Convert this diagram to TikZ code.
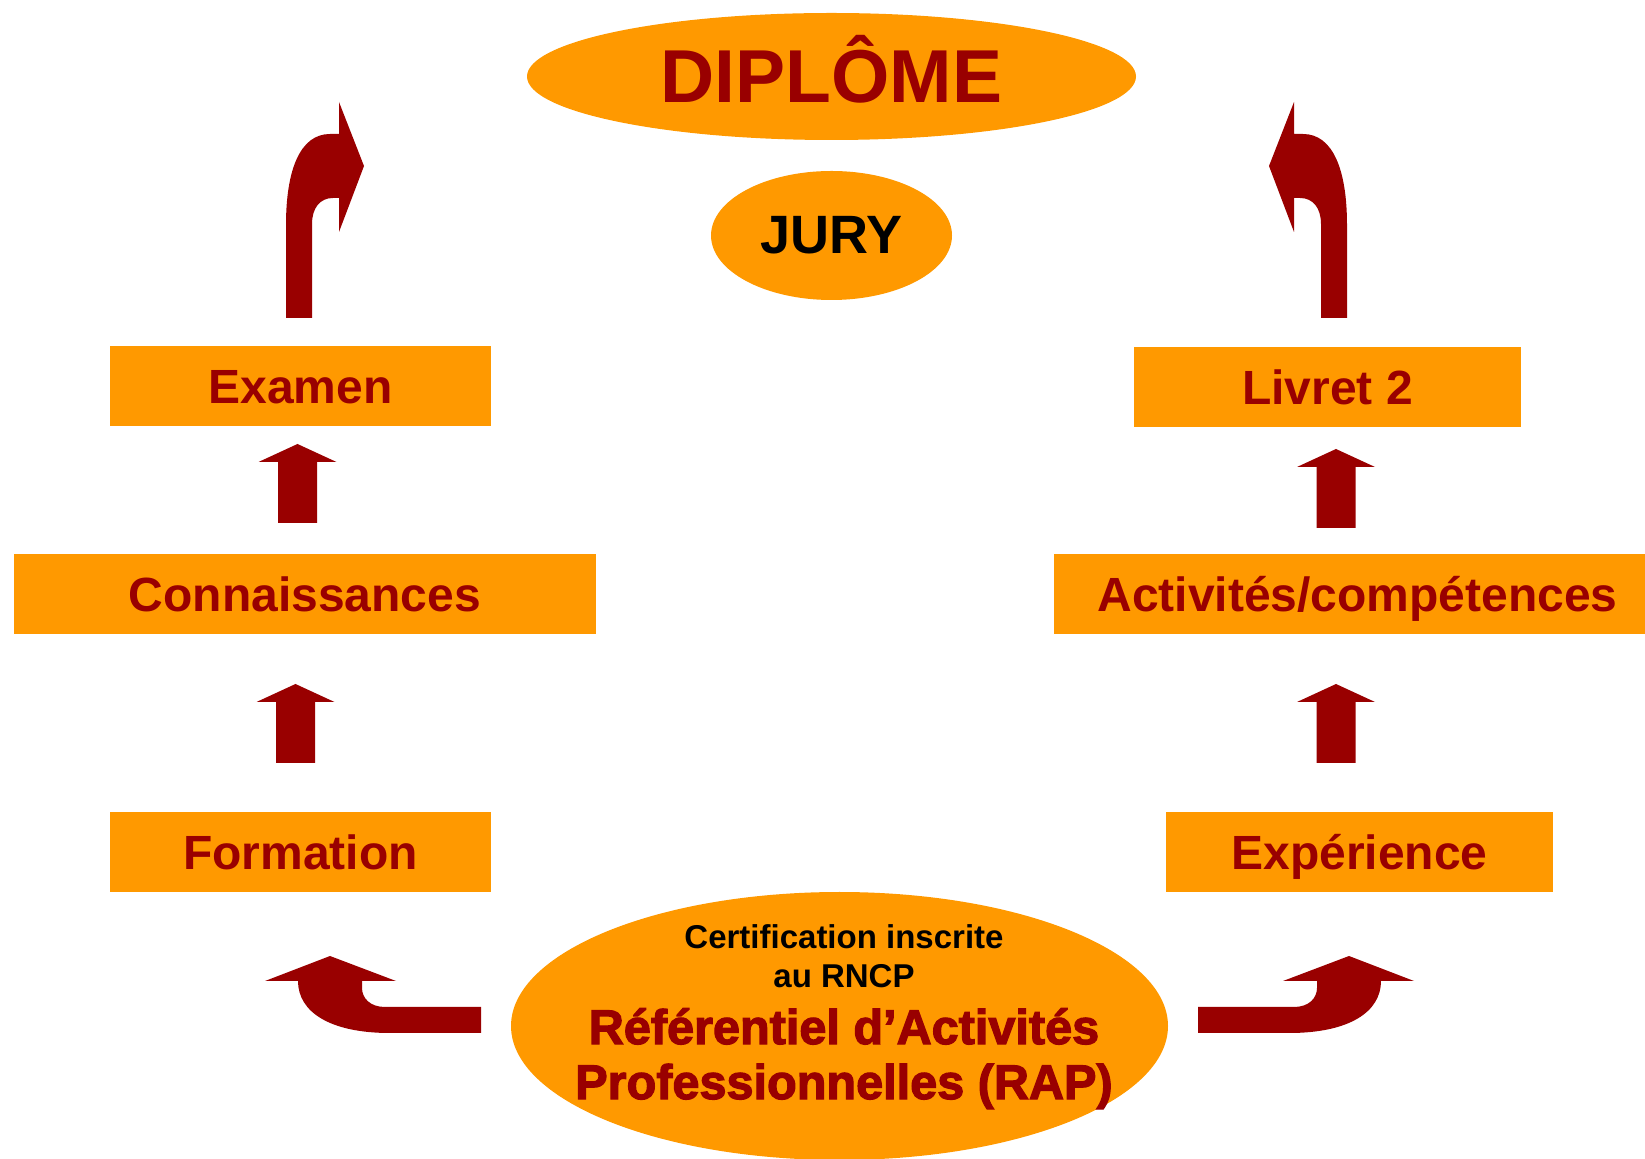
\documentclass[tikz,border=0pt]{standalone}
\usepackage{fontspec}
\setmainfont{Liberation Sans}
\newfontfamily\heavyfont{Liberation Sans}[BoldFeatures={FakeBold=2.5}]
\usetikzlibrary{shapes.geometric}
\definecolor{orangefill}{HTML}{FF9900}
\definecolor{darkred}{HTML}{990000}
\tikzset{
  box/.style={fill=orangefill, minimum height=40pt, inner sep=0pt, text=darkred,
    text height=20pt, text depth=2.8pt, font=\fontsize{24}{28}\selectfont\bfseries},
  oval/.style={ellipse, fill=orangefill, inner sep=0pt},
  blockup/.pic={\fill[darkred] (-19.5,79) -- (-19.5,18) -- (-39,18) -- (0,0) -- (39,18) -- (19.5,18) -- (19.5,79) -- cycle;}
}
% bent arrows, drawn once and mirrored
\newcommand{\bentarrowtop}{\fill[darkred] (286,318) -- (286,225) .. controls (286,170) and (300,134) .. (330,134) -- (339,134) -- (339,102) -- (364,166) -- (339,232) -- (339,198) -- (333,198) .. controls (320,198) and (312,208) .. (312,224) -- (312,318) -- cycle;}
\newcommand{\bentarrowlow}{\fill[darkred] (481,1007) -- (385,1007) .. controls (370,1007) and (362,998) .. (362,988) -- (362,981) -- (396,981) -- (330,956) -- (265,981) -- (298,981) .. controls (298,1012) and (330,1033) .. (390,1033) -- (481,1033) -- cycle;}
\begin{document}
\begin{tikzpicture}[x=0.5pt, y=-0.5pt]
\useasboundingbox (0,0) rectangle (1645,1159);
% top
\node[oval, minimum width=304.5pt, minimum height=63.5pt, text=darkred,
  text height=30pt, text depth=3.5pt,
  font=\fontsize{37.5}{40}\selectfont\bfseries] (diplome) at (831.5,76.5) {DIPLÔME};
\node[oval, minimum width=120.5pt, minimum height=64.5pt,
  font=\fontsize{27}{30}\selectfont\bfseries] (jury) at (831.5,235.5) {JURY};
% left column
\node[box, minimum width=190.5pt] (examen) at (300.5,386) {Examen};
\node[box, minimum width=291pt] (connaissances) at (305,594) {Connaissances};
\node[box, minimum width=190.5pt] (formation) at (300.5,852) {Formation};
% right column
\node[box, minimum width=193.5pt] (livret) at (1327.5,387) {Livret 2};
\node[box, minimum width=295.5pt, text width=295.5pt, align=center] (activites) at (1349.5,594) {\hspace*{8pt}Activités/compétences};
\node[box, minimum width=193.5pt] (experience) at (1359.5,852) {Expérience};
% straight arrows
\pic at (297.5,444) {blockup};
\pic at (295.5,684) {blockup};
\pic at (1336,449) {blockup};
\pic at (1336,684) {blockup};
% bent arrows
\bentarrowtop
\begin{scope}[shift={(1633,0)}, xscale=-1]
  \bentarrowtop
\end{scope}
\bentarrowlow
\begin{scope}[shift={(1679,0)}, xscale=-1]
  \bentarrowlow
\end{scope}
% bottom
\node[oval, minimum width=328.5pt, minimum height=134pt] (rap) at (839.5,1026) {};
\node[anchor=base, font=\fontsize{16.5}{18}\selectfont\bfseries] (cert1) at (844,949) {Certification inscrite};
\node[anchor=base, font=\fontsize{16.5}{18}\selectfont\bfseries] (cert2) at (844,987) {au RNCP};
\node[anchor=base, text=darkred, font=\heavyfont\bfseries\fontsize{24.3}{28}\selectfont] (rap1) at (844,1044) {Référentiel d’Activités};
\node[anchor=base, text=darkred, font=\heavyfont\bfseries\fontsize{24.3}{28}\selectfont] (rap2) at (844,1099) {Professionnelles (RAP)};
\end{tikzpicture}
\end{document}
